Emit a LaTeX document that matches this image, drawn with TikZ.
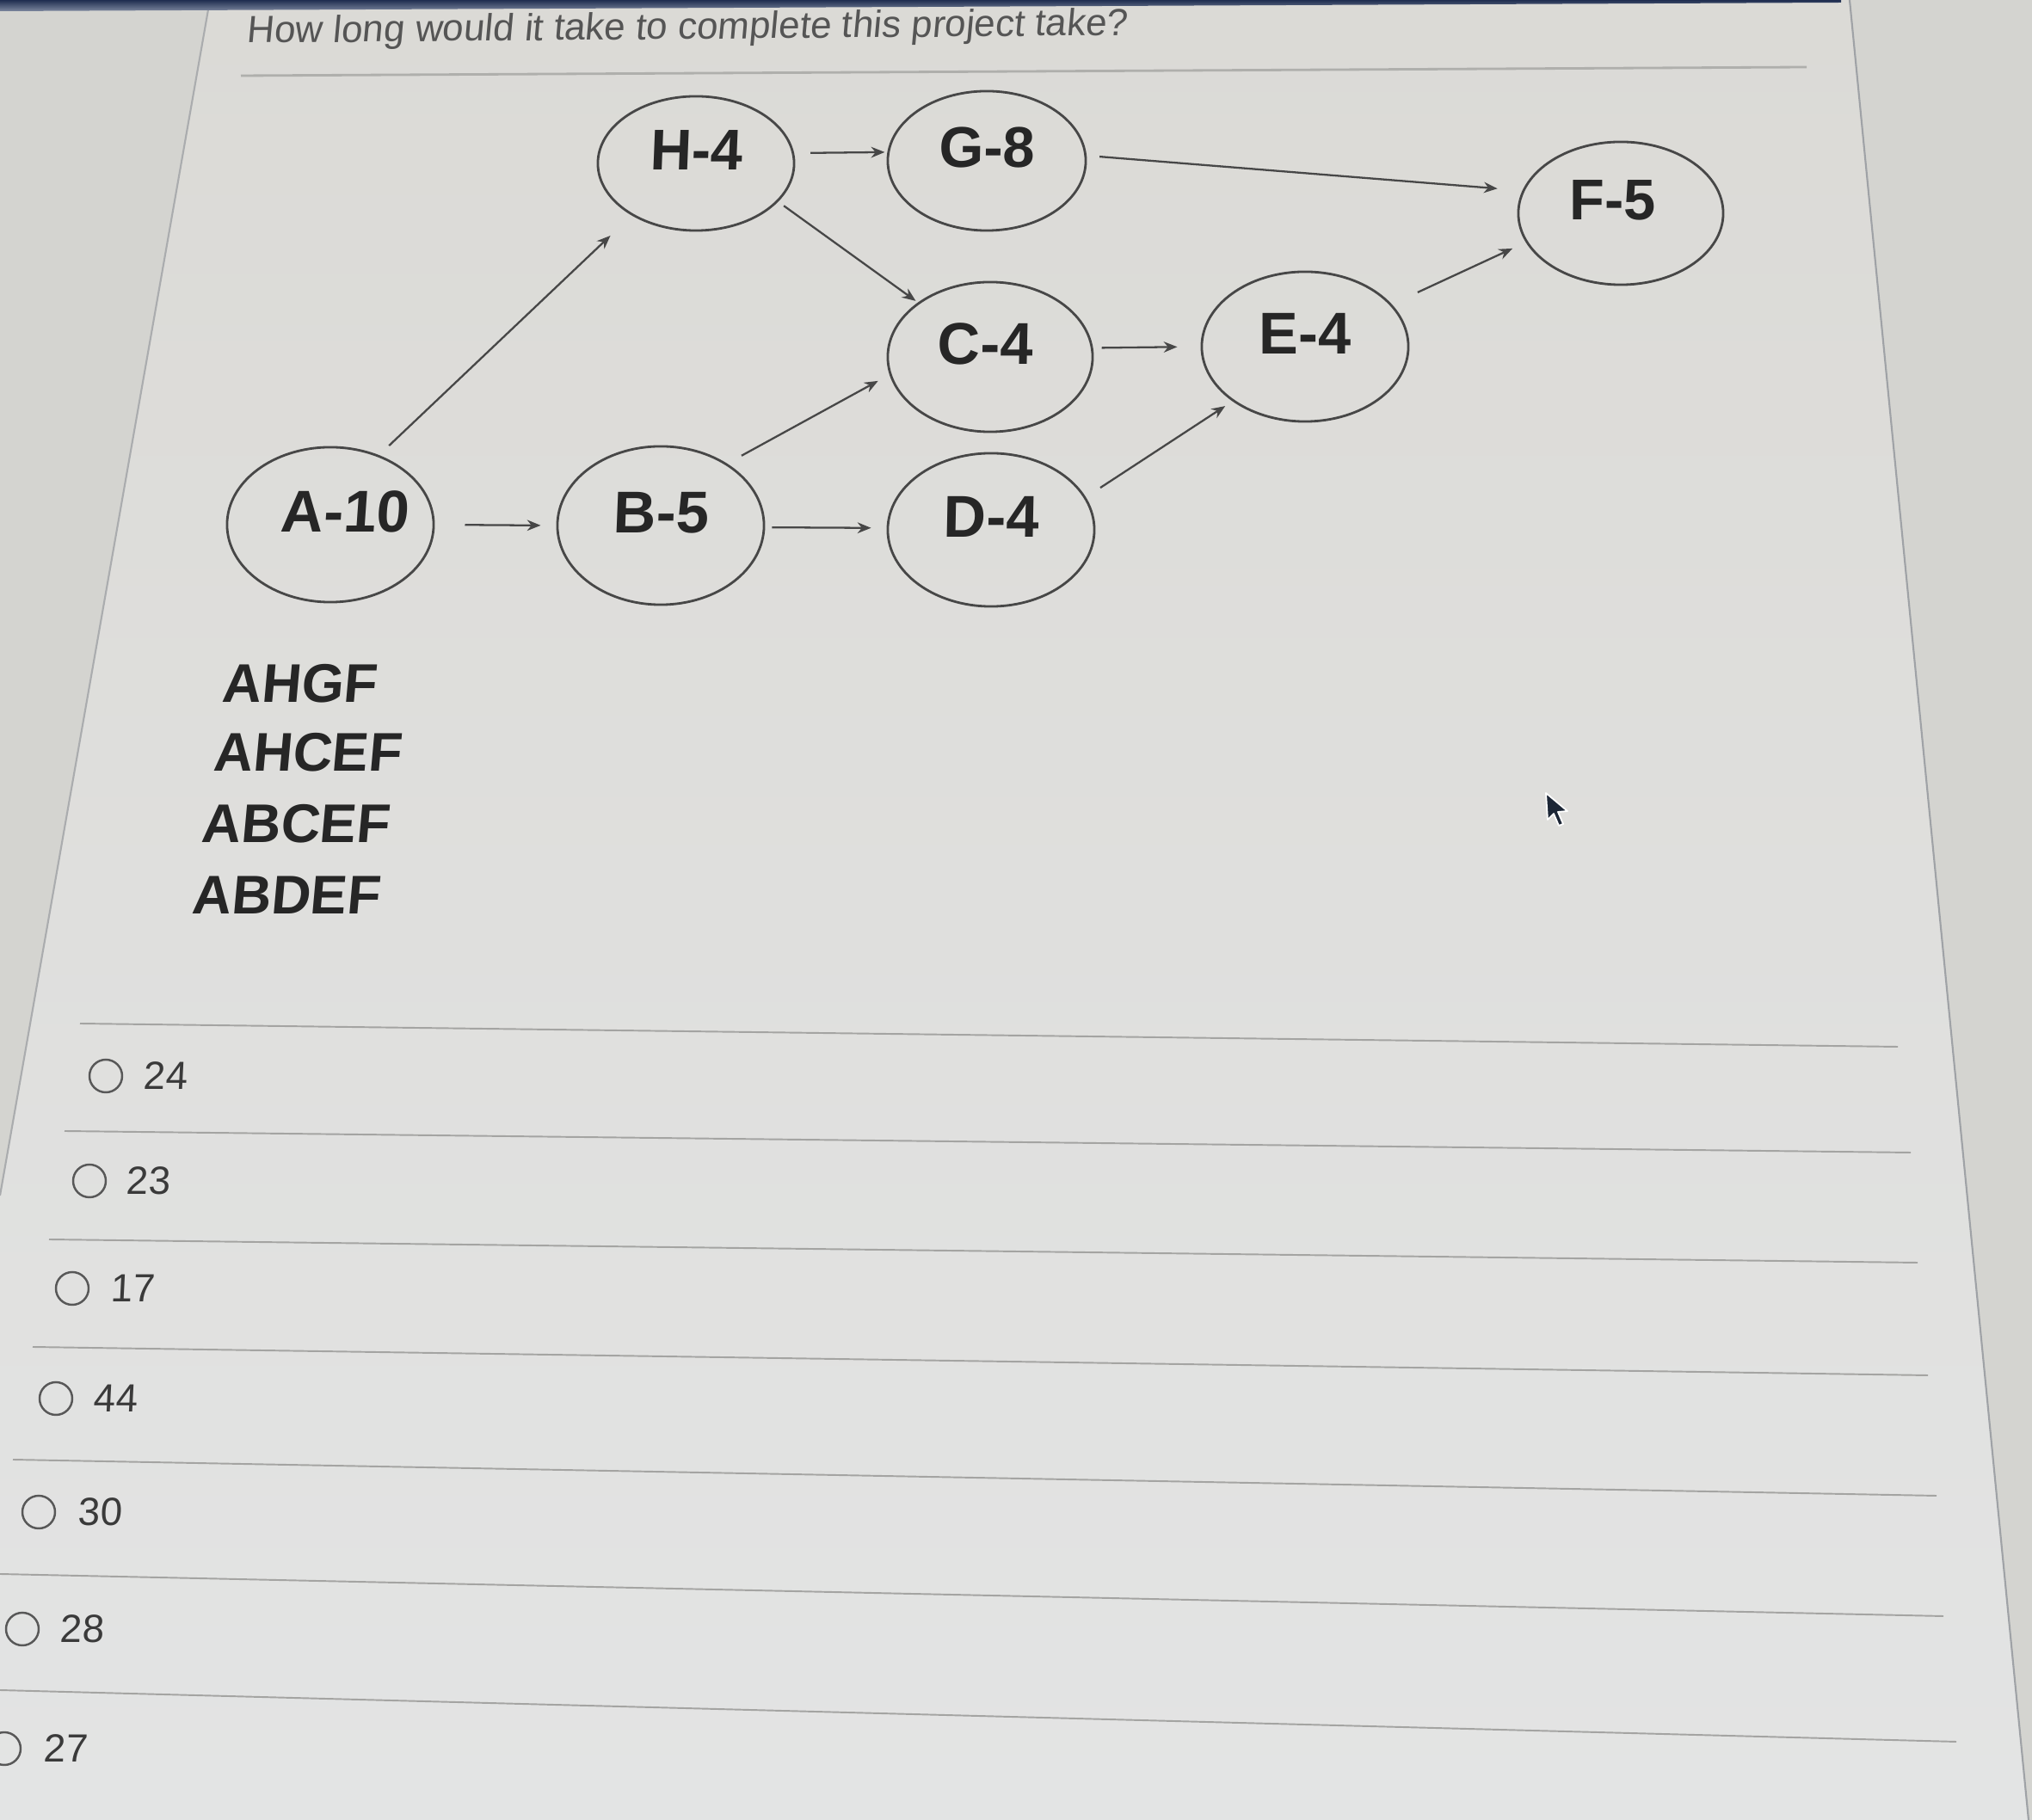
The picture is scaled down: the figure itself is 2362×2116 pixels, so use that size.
\documentclass[tikz,border=0pt]{standalone}
\usepackage{fontspec}
\setmainfont{Liberation Sans}
\usetikzlibrary{arrows.meta,shapes.geometric}
\newfontfamily\ttlfont[FakeSlant=0.10]{Liberation Sans}
\newfontfamily\optfont[FakeSlant=0.05]{Liberation Sans}
\newfontfamily\bsP[FakeSlant=0.09]{Liberation Sans Bold}
\newfontfamily\bsA[FakeSlant=0.07]{Liberation Sans Bold}
\newfontfamily\bsB[FakeSlant=0.04]{Liberation Sans Bold}
\newfontfamily\bsC[FakeSlant=0.02]{Liberation Sans Bold}
\newfontfamily\bsD{Liberation Sans Bold}
\definecolor{bgcol}{HTML}{D4D4D0}
\definecolor{cardtop}{HTML}{DBDAD6}
\definecolor{cardbot}{HTML}{E3E4E4}
\definecolor{edgecol}{HTML}{474747}
\definecolor{txtcol}{HTML}{262626}
\definecolor{ttlcol}{HTML}{555555}
\definecolor{optcol}{HTML}{3A3A3A}
\definecolor{rulecol}{HTML}{A4A4A2}
\definecolor{bordercol}{HTML}{9FA2A6}
\definecolor{bandtop}{HTML}{1F2D50}
\definecolor{bandbot}{HTML}{7C879E}
\definecolor{cursorcol}{HTML}{1C2636}
\newcommand\lbl[2]{\raisebox{0.15cm}[\height][\depth]{\kern#1#2\kern-#1}}
\begin{document}
\begin{tikzpicture}[x=0.01cm,y=-0.01cm,
  task/.style={ellipse,draw=edgecol,line width=0.8pt,inner sep=0pt,text=txtcol},
  flow/.style={draw=edgecol,line width=0.65pt,-{Stealth[length=4.5pt,width=3.6pt]}},
  pathtxt/.style={anchor=base west,inner sep=0pt,text=txtcol,font=\bsP\fontsize{18}{21}\selectfont},
  radio/.style={circle,draw=optcol!85,line width=0.7pt,minimum size=0.38cm,inner sep=0pt},
  opttxt/.style={anchor=west,inner sep=0pt,text=optcol,font=\optfont\fontsize{13}{15}\selectfont},
  rulel/.style={draw=rulecol,line width=0.55pt}]
\useasboundingbox (0,0) rectangle (2362,2116);
% background and card
\fill[bgcol] (0,0) rectangle (2362,2116);
\shade[top color=cardtop,bottom color=cardbot] (244,0) -- (2150,0) -- (2358,2116) -- (0,2116) -- (0,1390) -- cycle;
\draw[bordercol!80!bgcol,line width=0.6pt] (244,0) -- (0,1390);
\draw[bordercol,line width=0.6pt] (2150,0) -- (2358,2116);
\shade[top color=bandtop,bottom color=bandbot] (0,0) -- (2140,0) -- (2140,3) -- (0,13) -- cycle;
% title
\node[anchor=base west,inner sep=0pt,text=ttlcol,rotate=0.5,font=\ttlfont\fontsize{12.5}{14}\selectfont] (title) at (286,50) {How long would it take to complete this project take?};
\draw[draw=rulecol!80!cardtop,line width=0.8pt] (280,88) -- (2100,78);
% tasks
\node[task,minimum width=2.40cm,minimum height=1.80cm,font=\bsA\fontsize{19.5}{22}\selectfont] (A) at (384,610) {\lbl{0.16cm}{A-10}};
\node[task,minimum width=2.40cm,minimum height=1.84cm,font=\bsB\fontsize{19.5}{22}\selectfont] (B) at (768,611) {\lbl{0cm}{B-5}};
\node[task,minimum width=2.40cm,minimum height=1.78cm,font=\bsC\fontsize{19.5}{22}\selectfont] (D) at (1152,616) {\lbl{0cm}{D-4}};
\node[task,minimum width=2.28cm,minimum height=1.56cm,font=\bsB\fontsize{19}{22}\selectfont] (H) at (809,190) {\lbl{0cm}{H-4}};
\node[task,minimum width=2.30cm,minimum height=1.62cm,font=\bsC\fontsize{19}{22}\selectfont] (G) at (1147,187) {\lbl{0cm}{G-8}};
\node[task,minimum width=2.38cm,minimum height=1.74cm,font=\bsC\fontsize{19.5}{22}\selectfont] (C) at (1151,415) {\lbl{-0.06cm}{C-4}};
\node[task,minimum width=2.40cm,minimum height=1.74cm,font=\bsD\fontsize{19.5}{22}\selectfont] (E) at (1517,403) {\lbl{0cm}{E-4}};
\node[task,minimum width=2.38cm,minimum height=1.66cm,font=\bsD\fontsize{19}{22}\selectfont] (F) at (1884,248) {\lbl{-0.09cm}{F-5}};
% connectors
\draw[flow,shorten <=0.16cm,shorten >=0.34cm] (A.55) -- (H.219);
\draw[flow,shorten <=0.35cm,shorten >=0.18cm] (A.0) -- (B.180);
\draw[flow,shorten <=0.19cm,shorten >=0.03cm] (H.6) -- (G.175);
\draw[flow,shorten <=0.08cm,shorten >=0.03cm] (H.-25) -- (C.143);
\draw[flow,shorten <=0.19cm,shorten >=0.15cm] (B.43) -- (C.190);
\draw[flow,shorten <=0.08cm,shorten >=0.18cm] (B.-1) -- (D.179);
\draw[flow,shorten <=0.15cm,shorten >=0.29cm] (G.3) -- (F.167);
\draw[flow,shorten <=0.10cm,shorten >=0.27cm] (C.5) -- (E.180);
\draw[flow,shorten <=0.20cm,shorten >=0.10cm] (D.19) -- (E.217);
\draw[flow,shorten <=0.33cm,shorten >=0.17cm] (E.26) -- (F.197);
% paths
\node[pathtxt] (p1) at (257,817) {AHGF};
\node[pathtxt] (p2) at (247,897) {AHCEF};
\node[pathtxt] (p3) at (233,980) {ABCEF};
\node[pathtxt] (p4) at (222,1063) {ABDEF};
% rules
\draw[rulel] (93,1190) -- (2206,1217);
\draw[rulel] (75,1315) -- (2221,1340);
\draw[rulel] (57,1441) -- (2229,1468);
\draw[rulel] (38,1566) -- (2241,1599);
\draw[rulel] (15,1697) -- (2251,1739);
\draw[rulel] (0,1830) -- (2259,1879);
\draw[rulel] (0,1965) -- (2274,2025);
% options
\node[radio] (r1) at (123,1251) {};
\node[opttxt] (o1) at (166,1251) {24};
\node[radio] (r2) at (104,1373) {};
\node[opttxt] (o2) at (146,1373) {23};
\node[radio] (r3) at (84,1498) {};
\node[opttxt] (o3) at (128,1498) {17};
\node[radio] (r4) at (65,1626) {};
\node[opttxt] (o4) at (108,1626) {44};
\node[radio] (r5) at (45,1758) {};
\node[opttxt] (o5) at (90,1758) {30};
\node[radio] (r6) at (26,1894) {};
\node[opttxt] (o6) at (69,1894) {28};
\node[radio] (r7) at (5,2033) {};
\node[opttxt] (o7) at (50,2033) {27};
% mouse pointer
\filldraw[fill=cursorcol,draw=white,line width=0.5pt,line join=round] (1797,922) -- ++(2,31) -- ++(7,-7) -- ++(6,14) -- ++(5,-2) -- ++(-6,-14) -- ++(11,-1) -- cycle;
\end{tikzpicture}
\end{document}
